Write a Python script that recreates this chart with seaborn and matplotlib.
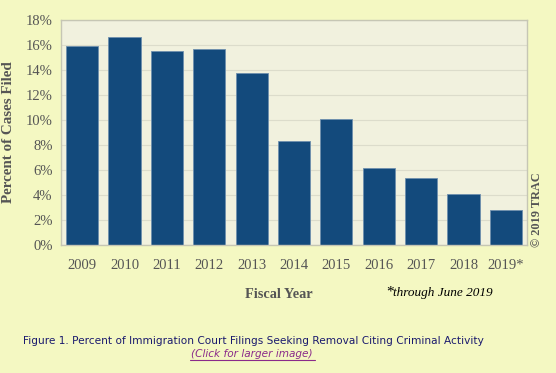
import numpy as np
import pandas as pd
import matplotlib
matplotlib.use('Agg')
import matplotlib.pyplot as plt
import seaborn as sns

# Veriler
years = ['2009', '2010', '2011', '2012', '2013', '2014', '2015',
         '2016', '2017', '2018', '2019*']
percents = [15.9, 16.6, 15.5, 15.65, 13.8, 8.35, 10.05, 6.2, 5.4, 4.1, 2.8]
y_ticks = [0, 2, 4, 6, 8, 10, 12, 14, 16, 18]

df = pd.DataFrame({'year': years, 'pct': percents})

outer_bg = '#F4F8C2'
plot_bg = '#F1F1DE'
bar_color = '#134A7C'
text_gray = '#555555'

sns.set_theme(style='whitegrid')
plt.rcParams['font.family'] = ['Liberation Serif', 'DejaVu Serif']

fig = plt.figure(figsize=(5.56, 3.73), dpi=100)
fig.patch.set_facecolor(outer_bg)
ax = fig.add_axes([61 / 556, 128 / 373, 466 / 556, 225 / 373])
ax.set_facecolor(plot_bg)

sns.barplot(data=df, x='year', y='pct', color=bar_color, saturation=1,
            width=0.76, edgecolor='#6E8FAE', linewidth=0.6, ax=ax)

ax.set_ylim(0, 18)
ax.set_xlim(-0.5, len(years) - 0.5)
ax.set_yticks(y_ticks)
ax.set_yticklabels([f'{t}%' for t in y_ticks], fontsize=10.5, color=text_gray)
ax.tick_params(axis='x', labelsize=10.5, labelcolor=text_gray, pad=10, length=0)
ax.tick_params(axis='y', pad=6, length=0)
ax.grid(axis='y', color='#DCDCCB', linewidth=0.8)
ax.grid(axis='x', visible=False)
ax.set_axisbelow(True)
for side in ['top', 'right', 'left', 'bottom']:
    ax.spines[side].set_color('#C6C6B4')
    ax.spines[side].set_linewidth(1.0)

ax.set_xlabel('')
ax.set_ylabel('Percent of Cases Filed', fontsize=10.8, fontweight='bold',
              color=text_gray, labelpad=8)

# Metinler
fig.text(279 / 556, 1 - 294 / 373, 'Fiscal Year', fontsize=10.3,
         fontweight='bold', color=text_gray, ha='center', va='center')
fig.text(386 / 556, 1 - 292 / 373, '*', fontsize=11, color='black',
         ha='left', va='center')
fig.text(393 / 556, 1 - 293 / 373, 'through June 2019', fontsize=9.5,
         style='italic', color='black', ha='left', va='center')
fig.text(537 / 556, 1 - 210 / 373, '© 2019 TRAC', fontsize=8.8,
         fontweight='bold', color=text_gray, rotation=90,
         ha='center', va='center')

fig.text(253 / 556, 1 - 341 / 373,
         'Figure 1. Percent of Immigration Court Filings Seeking Removal Citing Criminal Activity',
         fontsize=7.6, color='#1A1A6E', family='DejaVu Sans',
         ha='center', va='center')
fig.text(252 / 556, 1 - 354 / 373, '(Click for larger image)',
         fontsize=7.6, color='#8A2A8A', family='DejaVu Sans', style='italic',
         ha='center', va='center')
fig.add_artist(plt.Line2D([190 / 556, 315 / 556], [1 - 360 / 373, 1 - 360 / 373],
                          color='#8A2A8A', linewidth=0.8))

fig.savefig('out.png', dpi=100, facecolor=outer_bg)
